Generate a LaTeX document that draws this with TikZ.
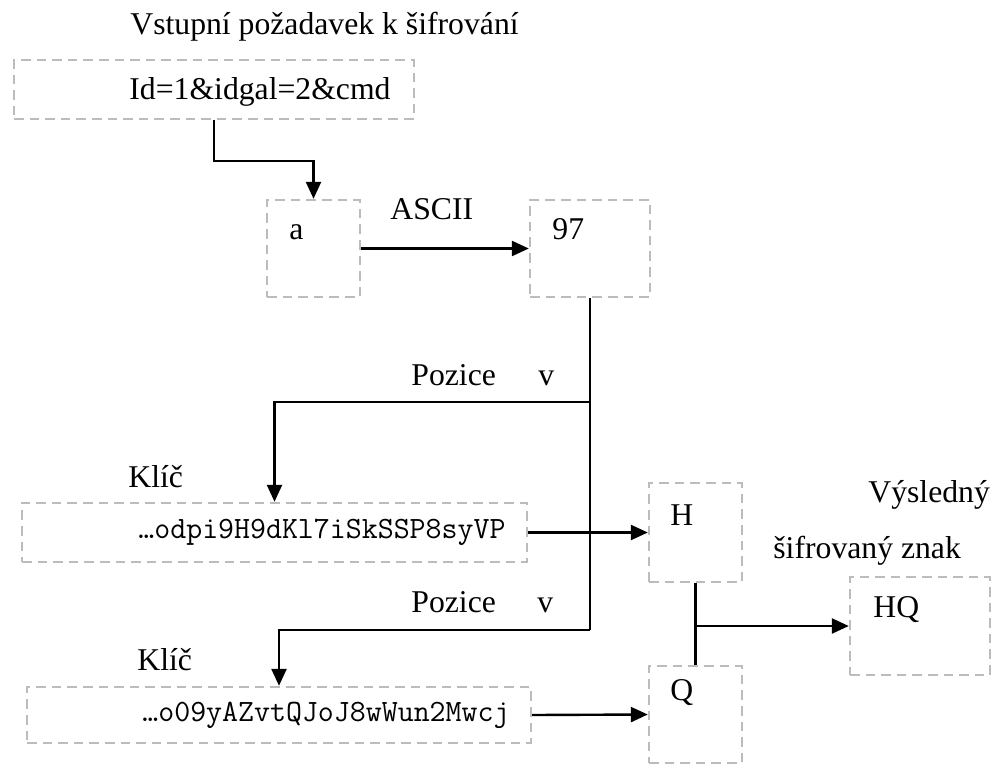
\documentclass[tikz,border=0pt]{standalone}
\usepackage{fontspec}
\setmainfont{Liberation Serif}
\usetikzlibrary{arrows.meta}

\definecolor{boxgray}{RGB}{188,188,188}

\tikzset{
  dbox/.style={draw=boxgray, line width=1.2pt, dash pattern=on 4.8pt off 3pt,
               rectangle, inner sep=0pt},
  lbl/.style={anchor=base west, inner sep=0pt, font=\fontsize{15.85}{19}\selectfont},
  keytxt/.style={anchor=base west, inner sep=0pt, font=\ttfamily\fontsize{15.5}{18}\selectfont},
  wire/.style={draw=black, line width=1.2pt},
  arr/.style={wire, -{Triangle[length=8.5pt,width=7.5pt]}}
}

\begin{document}
\begin{tikzpicture}[x=0.5pt, y=-0.5pt]
  \useasboundingbox (0,0) rectangle (999,764);

  % boxes
  \node[dbox, minimum width=200pt, minimum height=29.5pt] (req) at (214,89.5) {};
  \node[dbox, minimum width=46.5pt, minimum height=48.5pt] (boxA) at (313.5,248.5) {};
  \node[dbox, minimum width=60pt, minimum height=48.5pt] (box97) at (590,248.5) {};
  \node[dbox, minimum width=252.5pt, minimum height=29.5pt] (key1) at (274.5,532.5) {};
  \node[dbox, minimum width=252pt, minimum height=28pt] (key2) at (279,715) {};
  \node[dbox, minimum width=46.5pt, minimum height=49.5pt] (boxH) at (695.5,532.5) {};
  \node[dbox, minimum width=46.5pt, minimum height=48.5pt] (boxQ) at (695.5,714.5) {};
  \node[dbox, minimum width=70pt, minimum height=49pt] (boxHQ) at (920,626) {};

  % texts
  \node[lbl] (title) at (130,35) {Vstupní požadavek k šifrování};
  \node[lbl] (reqtxt) at (129,100) {Id=1\&idgal=2\&cmd};
  \node[lbl] (atxt) at (289,240) {a};
  \node[lbl] (ascii) at (390,220) {ASCII};
  \node[lbl] (n97) at (552,240) {97};
  \node[lbl] (poz1) at (411,385) {Pozice};
  \node[lbl] (v1) at (538,385) {v};
  \node[lbl] (klic1) at (128,487) {Klíč};
  \node[keytxt] (key1txt) at (138,538) {…odpi9H9dKl7iSkSSP8syVP};
  \node[lbl] (poz2) at (411,612) {Pozice};
  \node[lbl] (v2) at (537,612) {v};
  \node[lbl] (klic2) at (137,670) {Klíč};
  \node[keytxt] (key2txt) at (142,721) {…o09yAZvtQJoJ8wWun2Mwcj};
  \node[lbl] (htxt) at (670,525) {H};
  \node[lbl] (qtxt) at (670,700) {Q};
  \node[lbl] (hqtxt) at (873,617) {HQ};
  \node[lbl] (res1) at (868,502) {Výsledný};
  \node[lbl] (res2) at (773,558) {šifrovaný znak};

  % junctions
  \coordinate (j1) at (590,402);
  \coordinate (j2) at (590,630);
  \coordinate (j3) at (695.5,626);

  % connectors
  \draw[arr] (req.south) -- ++(0,41) -| (boxA.north);
  \draw[arr] (boxA.east) -- (box97.west);
  \draw[wire] (box97.south) -- (j2);
  \draw[arr] (j1) -| (key1.north);
  \draw[arr] (j2) -| (key2.north);
  \draw[arr] (key1.east) -- (boxH.west);
  \draw[arr] (key2.east) -- (boxQ.west);
  \draw[wire] (boxH.south) -- (boxQ.north);
  \draw[arr] (j3) -- (boxHQ.west);
\end{tikzpicture}
\end{document}
